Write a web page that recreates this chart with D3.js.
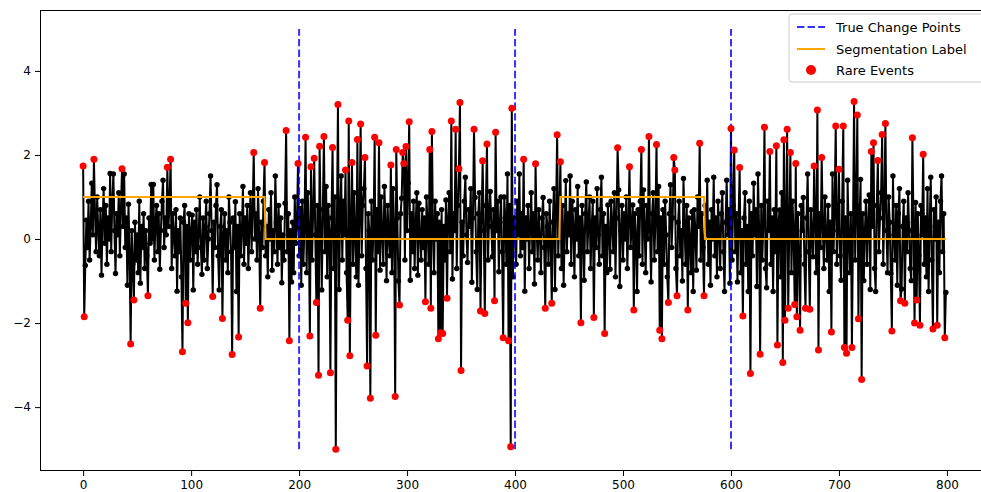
<!DOCTYPE html>
<html><head><meta charset="utf-8">
<script src="https://cdn.jsdelivr.net/npm/d3@7"></script>
<style>
html,body{margin:0;padding:0;background:#fff;}
svg text{font-family:"DejaVu Sans",sans-serif;}
</style></head>
<body><svg id="chart" width="981" height="492"></svg>
<script>
// ---------- data ----------
const signal = [
1.74,-1.85,-0.63,0.45,-0.2,0.9,-0.5,0.3,1.33,0.1,1.9,0.6,-0.3,1.0,0.2,-0.4,0.7,-0.86,0.4,1.2,
-0.1,0.8,-0.6,0.5,0.0,1.56,-0.3,0.9,1.55,0.2,-0.82,0.6,0.1,1.1,-0.4,0.7,1.67,0.3,1.55,-0.2,
0.5,-1.1,0.83,-0.3,-2.5,0.2,-0.6,-1.45,0.4,-0.5,0.1,-0.8,0.9,-1.05,0.3,-0.2,0.6,-0.7,0.2,-0.4,
-1.35,0.5,-0.1,1.3,0.0,1.3,-0.5,0.4,0.8,-0.3,0.6,-0.72,0.2,0.9,1.4,-0.2,0.5,0.1,1.71,0.3,
0.8,1.9,-0.7,0.6,0.1,-0.4,0.7,-1.24,0.2,-0.3,0.5,-0.9,-2.68,0.4,0.8,-1.53,0.3,-1.99,0.6,-0.5,
0.2,0.57,-1.21,0.4,-0.3,0.7,-0.6,0.1,1.0,-0.2,-0.84,0.5,-0.5,0.3,0.9,-0.7,0.0,0.6,1.5,0.2,
-1.37,0.4,-0.2,0.8,1.29,-0.4,-1.21,0.3,0.7,-1.89,0.1,0.6,-0.5,0.2,-0.8,1.0,0.4,-0.3,-2.75,0.5,
-0.2,0.89,-1.25,0.3,-2.33,0.6,-0.4,0.2,1.25,-0.6,0.5,-0.1,0.8,-0.7,0.3,1.1,-0.3,0.7,2.06,0.0,
0.6,-0.5,1.2,0.1,-1.65,0.4,-0.2,0.9,1.82,-0.4,0.3,-0.9,0.7,0.0,1.1,-0.74,0.2,-0.3,1.5,0.4,
-0.6,0.8,-0.2,0.5,-1.04,0.1,-0.5,0.85,2.58,-0.3,0.6,-2.42,0.2,-1.02,0.4,-0.8,1.0,-0.1,0.3,1.8,
-0.4,0.73,-1.1,0.9,-0.6,0.3,2.42,-0.8,1.1,0.2,-2.31,1.72,-0.5,0.6,1.92,0.1,-1.51,0.8,-3.24,2.21,
0.4,-1.21,0.7,2.44,-0.3,1.25,-0.9,0.8,0.2,-3.18,0.5,2.18,-0.7,1.0,-5.0,0.3,3.2,-1.2,0.6,1.5,
-0.5,0.9,0.1,1.64,-0.8,-1.93,2.81,-2.78,0.4,1.82,-0.6,1.1,0.0,-0.9,2.37,-1.1,0.5,2.74,-0.4,0.8,
1.2,1.94,-0.7,-3.02,0.6,0.2,-3.79,0.9,-0.5,0.3,2.42,-2.29,0.7,-0.3,2.29,-0.74,1.0,0.1,-0.6,1.25,
0.4,-0.99,0.8,0.0,-0.4,1.76,-0.8,1.2,0.3,-3.75,2.13,0.5,-1.0,-1.57,0.6,0.97,2.06,1.8,-0.5,2.2,
0.2,1.34,2.79,-0.98,0.6,-0.3,0.9,-0.7,0.4,1.1,-0.86,0.85,0.1,-0.5,0.7,-0.2,0.5,-1.49,1.0,0.3,
-0.6,2.13,-1.65,2.56,0.2,-0.8,0.9,0.0,0.6,-2.37,0.4,-2.23,0.7,-2.25,0.3,-0.5,0.93,-1.41,0.5,1.1,
-0.3,2.81,-0.95,0.6,0.2,2.61,-0.7,0.8,1.67,3.25,-3.13,0.4,-0.4,0.9,1.47,0.1,-0.56,0.7,0.3,1.2,
-1.03,0.5,2.61,0.99,-0.3,-1.2,0.6,1.1,-1.71,0.4,1.86,0.2,-1.77,0.8,2.26,-0.5,0.6,1.13,0.3,-0.42,
0.7,-1.47,2.54,0.2,0.9,-0.78,0.4,1.0,-0.3,-2.35,1.0,0.5,-0.6,1.55,-2.42,0.8,-4.94,3.11,-0.9,0.5,
0.3,-0.6,0.9,0.1,1.55,-0.4,0.6,-0.2,1.9,-1.24,0.5,0.0,0.8,-0.7,0.3,1.1,-0.3,0.6,-1.07,1.79,
0.2,-0.5,0.7,0.1,-0.8,0.5,0.99,-0.2,-1.65,0.6,0.3,-0.6,0.9,0.0,-1.53,0.4,1.2,-1.2,0.7,2.48,
-0.4,0.5,1.84,-0.7,0.8,-1.1,0.2,1.39,-0.3,0.6,0.1,1.5,-0.6,0.9,0.3,-0.9,0.7,0.0,1.25,-0.4,
0.5,-1.99,0.8,0.2,-0.98,0.6,1.36,-0.3,0.4,1.0,-0.7,0.3,0.9,-1.87,0.5,-0.2,1.2,0.1,-0.6,0.7,
1.47,-0.4,0.6,-2.25,0.3,-0.8,0.81,0.1,-0.72,0.9,0.4,-0.3,1.1,-0.9,0.5,2.17,1.17,-1.13,0.2,0.8,
-0.5,0.6,0.0,1.0,-0.7,0.4,1.72,-0.2,0.3,0.81,-1.69,0.6,0.1,-1.25,0.7,-0.4,0.9,2.13,-0.6,1.17,
0.3,-0.8,0.8,0.0,2.44,0.2,-1.02,0.6,1.1,-0.5,0.4,2.25,-0.3,1.25,-2.17,0.5,-2.37,0.7,-0.6,0.9,
0.1,-0.9,-1.51,0.6,1.29,-0.2,0.5,1.94,1.64,-0.7,-1.35,0.4,0.9,-0.4,0.2,-1.0,1.44,0.3,-0.6,0.8,
-1.69,0.5,0.0,-0.8,0.65,-1.25,0.7,0.2,-0.74,1.0,0.3,2.28,-0.5,0.6,-0.2,-1.35,0.8,0.1,1.4,-0.6,
0.4,-1.1,0.7,0.0,1.47,-0.4,0.5,-0.9,0.9,0.2,-0.7,0.6,1.1,-0.3,-1.25,0.4,1.4,0.1,0.7,-1.05,
2.63,-0.5,0.8,2.12,-0.3,0.6,-1.02,0.4,1.7,-0.8,0.2,-1.83,0.5,1.1,-0.6,0.3,-1.25,0.9,-3.2,0.6,
-0.4,1.33,0.1,0.7,-1.13,1.55,0.3,-2.74,0.8,-0.5,0.4,2.66,-0.7,-1.16,0.9,0.2,2.08,-0.6,0.5,-1.25,
0.7,-0.3,2.22,-2.52,0.4,0.69,-0.9,1.1,-2.94,2.36,-1.93,0.5,2.61,-1.65,0.3,2.06,-0.8,0.9,0.1,-1.56,
1.8,-1.85,0.6,-0.4,-2.17,0.8,0.2,0.99,-0.6,-1.65,0.5,1.55,-0.3,-1.67,0.7,0.0,-0.42,1.74,0.4,-0.8,
3.07,-2.64,0.6,-0.2,1.94,0.3,-0.7,1.0,0.1,-0.5,0.8,-1.25,0.4,-2.21,1.55,-0.3,0.7,2.69,-0.6,0.2,
1.66,-0.4,-0.98,0.9,2.69,-2.58,0.5,-2.72,1.4,0.1,-0.8,0.6,-2.58,0.3,3.27,-0.5,0.8,2.95,-1.9,0.4,
1.42,-3.34,0.6,-0.99,0.2,0.9,-0.6,0.4,1.05,-1.2,2.08,0.3,2.29,-0.7,-1.25,0.8,1.87,-0.3,0.5,1.1,
2.49,-0.6,0.7,2.75,0.2,-0.8,1.0,0.4,-0.82,-2.19,1.5,0.1,-0.5,0.8,-1.1,0.6,1.2,-1.47,-1.19,0.3,
0.9,-1.53,0.5,-0.3,1.1,0.2,-0.7,-0.99,2.41,0.4,-2.0,0.87,-1.45,0.6,-0.4,-2.05,0.8,0.1,2.02,-0.6,
0.5,-0.9,1.2,-1.25,0.3,1.47,-0.5,-2.14,0.7,0.0,1.0,-2.05,0.4,-0.8,0.9,1.5,-0.3,0.6,-2.35,-1.27
];
const changePoints = [200, 400, 600];
const changeLineRange = [-5, 5];
const segStarts = [0, 169, 442, 576];
const segValues = [1, 0, 1, 0];
const rareUpper = 1.6;
const rareLower = -1.3;
const xTicks = [0, 100, 200, 300, 400, 500, 600, 700, 800];
const yTicks = [-4, -2, 0, 2, 4];
const legendLabels = ["True Change Points", "Segmentation Label", "Rare Events"];

// ---------- derived ----------
const pts = signal.map((v, i) => ({i, v}));
const segLabel = signal.map((_, i) => {
  let k = 0;
  for (let s = 0; s < segStarts.length; s++) if (i >= segStarts[s]) k = s;
  return {i, v: segValues[k]};
});
const rare = pts.filter(d => d.v >= rareUpper || d.v <= rareLower);

// ---------- layout ----------
const svg = d3.select("#chart");
const L = 40, R = 989, T = 10, B = 471;
const x = d3.scaleLinear().domain([-39.95, 838.95]).range([L, R]);
const y = d3.scaleLinear().domain([-5.52, 5.45]).range([B, T]);

const g = svg.append("g");
svg.append("defs").append("clipPath").attr("id","clip")
  .append("rect").attr("x",L).attr("y",T).attr("width",R-L).attr("height",B-T);
const plot = g.append("g").attr("clip-path","url(#clip)");

// data line
plot.append("path").datum(pts)
  .attr("d", d3.line().x(d => x(d.i)).y(d => y(d.v)))
  .attr("fill","none").attr("stroke","#000").attr("stroke-width",2).attr("stroke-linejoin","round");
plot.append("g").selectAll("circle").data(pts).join("circle")
  .attr("cx", d => x(d.i)).attr("cy", d => y(d.v)).attr("r", 2.7).attr("fill","#000");

// change points
plot.append("g").selectAll("line").data(changePoints).join("line")
  .attr("x1", d => x(d)).attr("x2", d => x(d))
  .attr("y1", y(changeLineRange[0])).attr("y2", y(changeLineRange[1]))
  .attr("stroke","blue").attr("stroke-opacity",0.8).attr("stroke-width",2)
  .attr("stroke-dasharray","7.4,3.2");

// segmentation label
plot.append("path").datum(segLabel)
  .attr("d", d3.line().x(d => x(d.i)).y(d => y(d.v)))
  .attr("fill","none").attr("stroke","orange").attr("stroke-width",2);

// rare events
plot.append("g").selectAll("circle").data(rare).join("circle")
  .attr("cx", d => x(d.i)).attr("cy", d => y(d.v)).attr("r", 3.5).attr("fill","red");

// axes
const xAxis = g.append("g").attr("transform",`translate(0,${B})`)
  .call(d3.axisBottom(x).tickValues(xTicks).tickSize(5).tickPadding(4).tickFormat(d3.format("d")));
const yAxis = g.append("g").attr("transform",`translate(${L},0)`)
  .call(d3.axisLeft(y).tickValues(yTicks).tickSize(5).tickPadding(4).tickFormat(d => d < 0 ? "\u2212" + Math.abs(d) : d));
[xAxis, yAxis].forEach(a => {
  a.select(".domain").remove();
  a.selectAll("text").attr("font-size", 12).attr("fill","#000").attr("font-family","DejaVu Sans, sans-serif");
  a.selectAll("line").attr("stroke","#000").attr("stroke-width",1);
});
// frame
g.append("rect").attr("x",L+0.5).attr("y",T+0.5).attr("width",R-L-1).attr("height",B-T-1)
  .attr("fill","none").attr("stroke","#000").attr("stroke-width",1);

// legend
const lg = svg.append("g").attr("transform","translate(789,14)");
lg.append("rect").attr("width",196).attr("height",68).attr("rx",3)
  .attr("fill","#fff").attr("fill-opacity",0.85).attr("stroke","#ccc");
const rowY = [13, 35, 56];
lg.append("line").attr("x1",8).attr("x2",36).attr("y1",rowY[0]).attr("y2",rowY[0])
  .attr("stroke","blue").attr("stroke-opacity",0.8).attr("stroke-width",2).attr("stroke-dasharray","7.4,3.2");
lg.append("line").attr("x1",8).attr("x2",36).attr("y1",rowY[1]).attr("y2",rowY[1])
  .attr("stroke","orange").attr("stroke-width",2);
lg.append("circle").attr("cx",22).attr("cy",rowY[2]).attr("r",5).attr("fill","red");
legendLabels.forEach((t, k) => {
  lg.append("text").attr("x",47).attr("y",rowY[k]).attr("dy","0.35em")
    .attr("font-size",13).attr("fill","#000").text(t);
});
</script></body></html>
